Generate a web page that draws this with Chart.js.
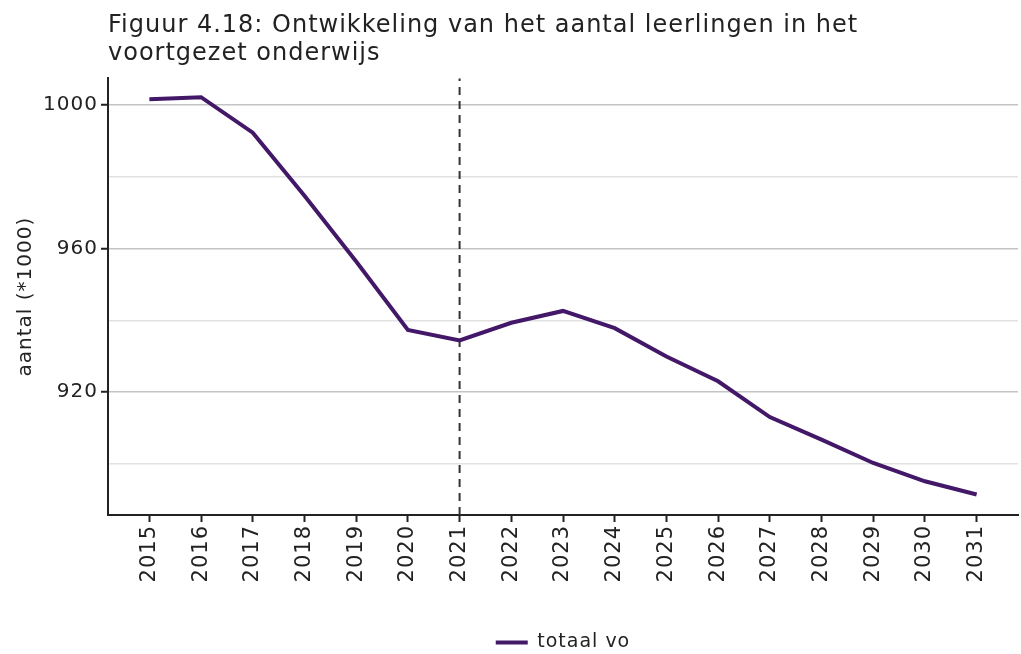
<!DOCTYPE html>
<html lang="nl">
<head>
    <meta charset="UTF-8">
    <title>Figuur 4.18</title>
    <script src="https://cdn.jsdelivr.net/npm/chart.js"></script>
    <style>
        body { margin: 0; background: #fff; }
        .wrap { width: 1021px; height: 654px; position: relative; }
    </style>
</head>
<body>
    <div class="wrap"><canvas id="myChart"></canvas></div>
    <script>
        const years = [2015, 2016, 2017, 2018, 2019, 2020, 2021, 2022, 2023, 2024, 2025, 2026, 2027, 2028, 2029, 2030, 2031];
        const totaalVo = [1001.6, 1002.2, 992.3, 974.7, 956.4, 937.3, 934.4, 939.3, 942.6, 937.8, 929.9, 923.0, 913.0, 906.7, 900.2, 895.1, 891.4];
        const markerYear = 2021;
        const yRange = [885.7, 1007.5];
        const xRange = [2014.2, 2031.8];
        const yLabelled = [1000, 960, 920];

        const font = "'DejaVu Sans', Verdana, sans-serif";
        const purple = '#431868';

        // wider letter spacing, like the original's Verdana look
        const spacing = {
            id: 'spacing',
            beforeUpdate: chart => { chart.ctx.letterSpacing = '1px'; },
            beforeDraw: chart => { chart.ctx.letterSpacing = '1px'; }
        };

        new Chart(document.getElementById('myChart'), {
            type: 'line',
            data: {
                datasets: [
                    {
                        label: 'totaal vo',
                        data: years.map((y, i) => ({ x: y, y: totaalVo[i] })),
                        borderColor: purple,
                        backgroundColor: purple,
                        borderWidth: 4,
                        pointRadius: 0,
                        tension: 0
                    },
                    {
                        label: 'grens',
                        data: [{ x: markerYear, y: yRange[0] }, { x: markerYear, y: yRange[1] }],
                        borderColor: '#333',
                        borderWidth: 2,
                        borderDash: [8, 6],
                        pointRadius: 0
                    }
                ]
            },
            options: {
                responsive: true,
                maintainAspectRatio: false,
                animation: false,
                layout: { padding: { left: 0, right: 3, bottom: -8 } },
                plugins: {
                    title: {
                        display: true,
                        text: ['Figuur 4.18: Ontwikkeling van het aantal leerlingen in het', 'voortgezet onderwijs'],
                        align: 'start',
                        fullSize: false,
                        color: '#222',
                        font: { family: font, size: 24, weight: 'normal', lineHeight: 1.15 },
                        padding: { top: 12, bottom: 11 }
                    },
                    legend: {
                        position: 'bottom',
                        fullSize: false,
                        labels: {
                            filter: item => item.datasetIndex === 0,
                            usePointStyle: true,
                            pointStyle: 'line',
                            pointStyleWidth: 32,
                            color: '#222',
                            font: { family: font, size: 19 },
                            padding: 1
                        }
                    },
                    tooltip: { enabled: false }
                },
                scales: {
                    x: {
                        type: 'linear',
                        min: xRange[0],
                        max: xRange[1],
                        afterFit: s => { s.height = 117; },
                        border: { color: '#222', width: 2 },
                        grid: { drawOnChartArea: false, drawTicks: true, tickLength: 7, tickColor: '#222', tickWidth: 2 },
                        ticks: {
                            stepSize: 1,
                            includeBounds: false,
                            autoSkip: false,
                            minRotation: 90,
                            maxRotation: 90,
                            color: '#222',
                            font: { family: font, size: 21 },
                            callback: v => String(v)
                        }
                    },
                    y: {
                        min: yRange[0],
                        max: yRange[1],
                        afterFit: s => { s.width = 108; },
                        border: { color: '#222', width: 2 },
                        title: {
                            display: true,
                            text: 'aantal (*1000)',
                            color: '#222',
                            font: { family: font, size: 20 },
                            padding: { top: 14, bottom: 0 }
                        },
                        grid: {
                            color: c => yLabelled.includes(c.tick.value) ? '#c4c4c4' : '#e2e2e2',
                            lineWidth: 1.5,
                            tickLength: 7,
                            tickWidth: 2,
                            tickColor: c => yLabelled.includes(c.tick.value) ? '#222' : 'rgba(0,0,0,0)'
                        },
                        ticks: {
                            stepSize: 20,
                            includeBounds: false,
                            color: '#222',
                            font: { family: font, size: 20 },
                            callback: v => yLabelled.includes(v) ? String(v) : ''
                        }
                    }
                }
            },
            plugins: [spacing]
        });
    </script>
</body>
</html>
